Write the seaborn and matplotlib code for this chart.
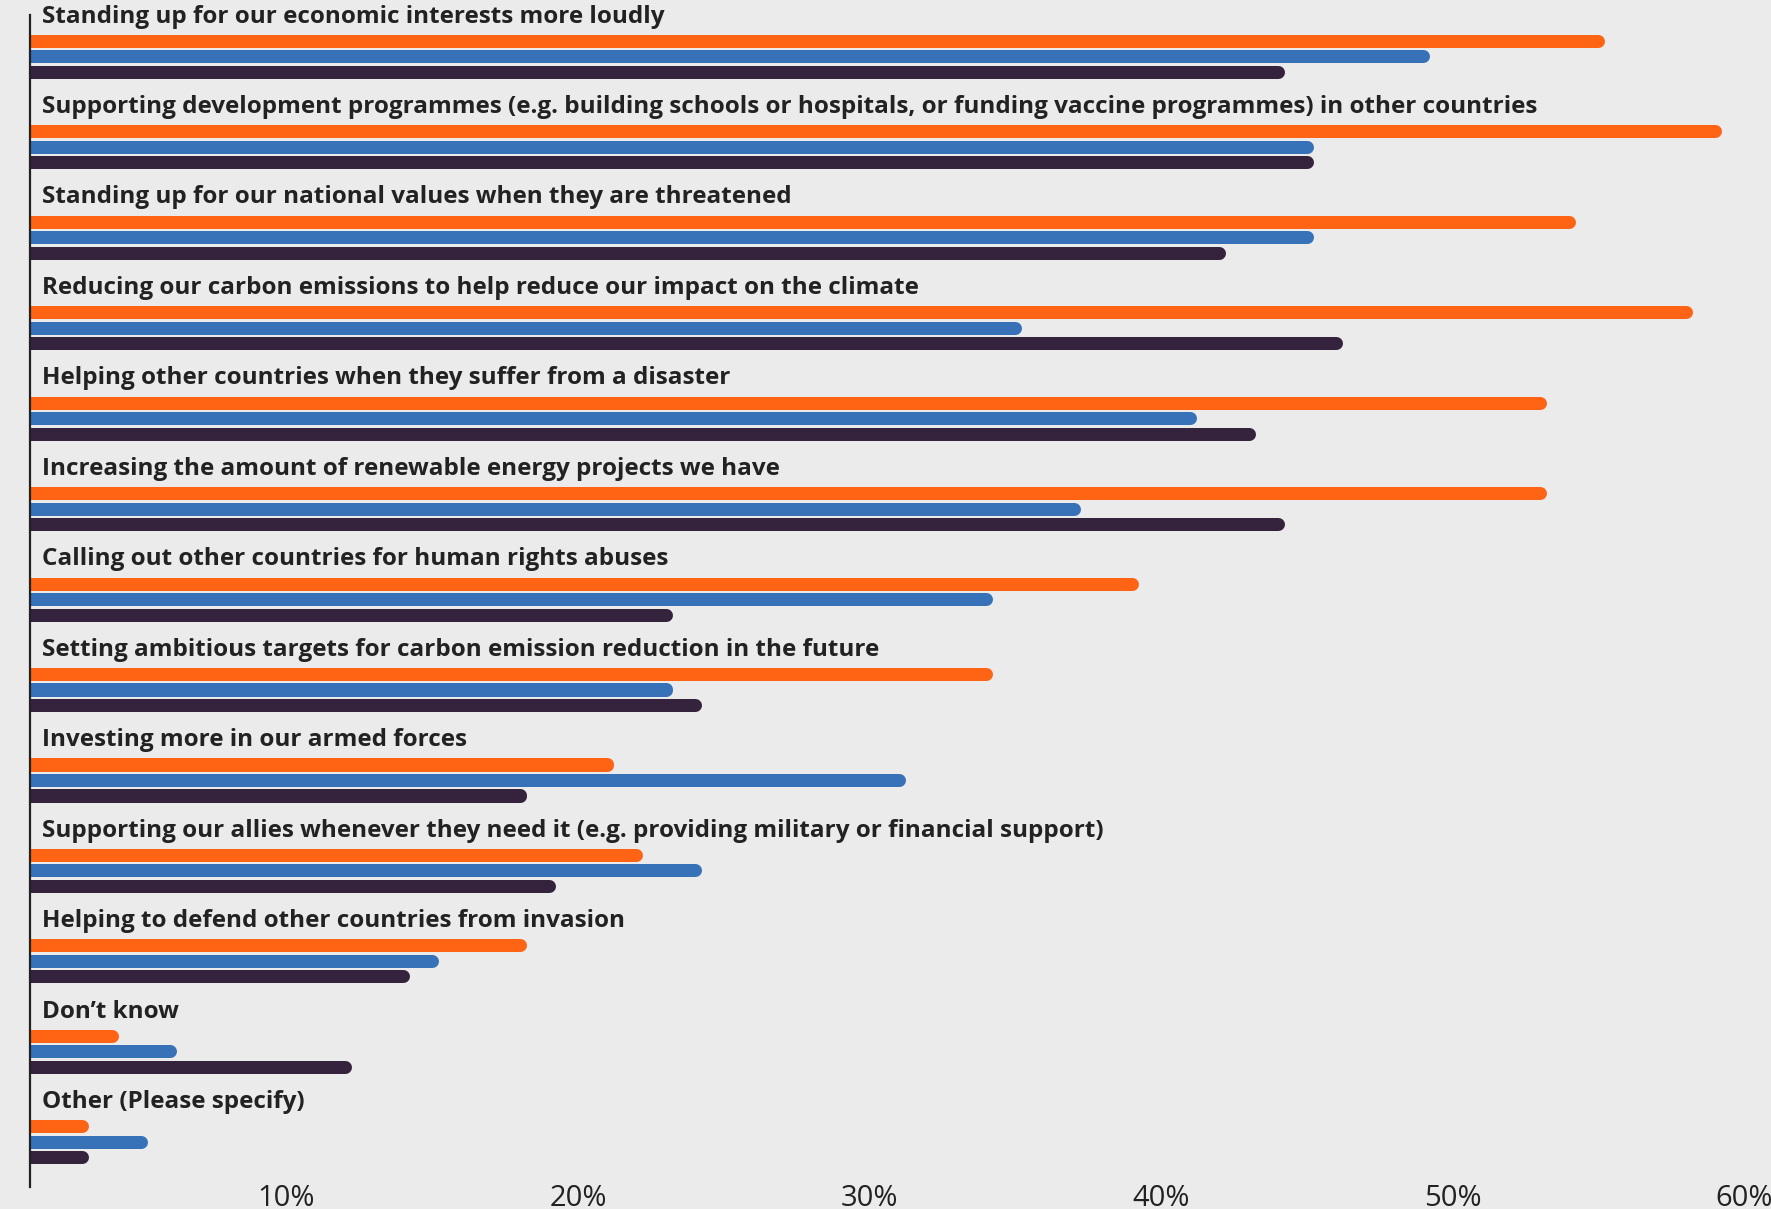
import matplotlib
matplotlib.use("Agg")
import matplotlib.pyplot as plt
import matplotlib.transforms as mtransforms
import seaborn as sns
import pandas as pd

categories = [
    "Standing up for our economic interests more loudly",
    "Supporting development programmes (e.g. building schools or hospitals, or funding vaccine programmes) in other countries",
    "Standing up for our national values when they are threatened",
    "Reducing our carbon emissions to help reduce our impact on the climate",
    "Helping other countries when they suffer from a disaster",
    "Increasing the amount of renewable energy projects we have",
    "Calling out other countries for human rights abuses",
    "Setting ambitious targets for carbon emission reduction in the future",
    "Investing more in our armed forces",
    "Supporting our allies whenever they need it (e.g. providing military or financial support)",
    "Helping to defend other countries from invasion",
    "Don\u2019t know",
    "Other (Please specify)",
]
series_names = ["Series A", "Series B", "Series C"]
series_a = [55, 59, 54, 58, 53, 53, 39, 34, 21, 22, 18, 4, 3]
series_b = [49, 45, 45, 35, 41, 37, 34, 23, 31, 24, 15, 6, 5]
series_c = [44, 45, 42, 46, 43, 44, 23, 24, 18, 19, 14, 12, 3]
tick_values = [10, 20, 30, 40, 50, 60]
tick_labels = ["10%", "20%", "30%", "40%", "50%", "60%"]

colors = ["#FF6414", "#3771B8", "#35223D"]
bg = "#ebebeb"
text_color = "#222222"

df = pd.DataFrame({
    "category": categories * 3,
    "series": [series_names[0]] * len(categories)
              + [series_names[1]] * len(categories)
              + [series_names[2]] * len(categories),
    "value": series_a + series_b + series_c,
})

sns.set_theme(style="white")
plt.rcParams["font.family"] = ["Open Sans", "DejaVu Sans"]

W, H, DPI = 1771, 1209, 100
fig = plt.figure(figsize=(W / DPI, H / DPI), dpi=DPI, facecolor=bg)
ax = fig.add_axes([30 / W, 1 - 1187 / H, 1 - 30 / W, (1187 - 15) / H])
ax.set_facecolor(bg)

sns.barplot(data=df, y="category", x="value", hue="series", order=categories,
            hue_order=series_names, palette=colors, orient="h", width=0.514,
            dodge=True, legend=False, ax=ax, saturation=1)

# rounded bar ends: near-zero-height bar with a thick round-joined edge
lw_px = 13.0
lw_pt = lw_px * 72 / DPI
for p in ax.patches:
    h = p.get_height()
    yc = p.get_y() + h / 2
    new_h = 0.001
    p.set_height(new_h)
    p.set_y(yc - new_h / 2)
    p.set_edgecolor(p.get_facecolor())
    p.set_linewidth(lw_pt)
    p.set_joinstyle("round")
    p.set_capstyle("round")

ax.set_xlim(1.20, 60.92)
ax.set_ylim(12.50, -0.457)
ax.set_xlabel("")
ax.set_ylabel("")
ax.set_yticks([])
ax.set_xticks(tick_values)
ax.set_xticklabels(tick_labels)
ax.tick_params(axis="x", length=0, pad=-2, labelsize=21, labelcolor=text_color)
for lab in ax.get_xticklabels():
    lab.set_fontfamily(["Liberation Sans Narrow", "Open Sans", "DejaVu Sans"])

for s in ["top", "right", "bottom"]:
    ax.spines[s].set_visible(False)
ax.spines["left"].set_color(text_color)
ax.spines["left"].set_linewidth(1.6)

trans = mtransforms.blended_transform_factory(ax.transAxes, ax.transData)
for i, cat in enumerate(categories):
    ax.text(12 / (W - 30), i - 0.44, cat, transform=trans, ha="left", va="center",
            fontsize=17.5, fontweight="bold", color=text_color)

fig.savefig("out.png", dpi=DPI, facecolor=bg)
